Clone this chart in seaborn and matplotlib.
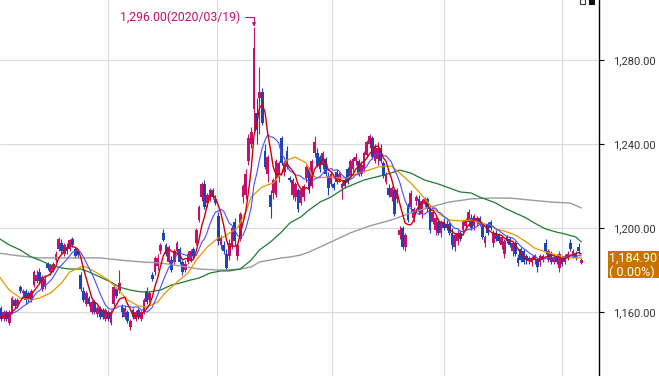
import numpy as np
import pandas as pd
import matplotlib
matplotlib.use("Agg")
import matplotlib.pyplot as plt
import seaborn as sns
from matplotlib.patches import Rectangle
from matplotlib.ticker import FuncFormatter
from matplotlib.transforms import blended_transform_factory

# USD/KRW daily candles (Nov 2019 - Sep 2020)
opens = [1163, 1161, 1162, 1157, 1160, 1155, 1160, 1166, 1163, 1172, 1169, 1170, 1169, 1166, 1173, 1175, 1179, 1171, 1172, 1183,
         1179, 1180, 1185, 1190, 1193, 1188, 1191, 1190, 1195, 1190, 1189, 1178, 1170, 1164, 1167, 1160, 1165, 1159, 1162, 1161,
         1157, 1160, 1155, 1164, 1171, 1170, 1163, 1158, 1160, 1153, 1161, 1157, 1161, 1157, 1160, 1170, 1166, 1178, 1179, 1182,
         1189, 1198, 1192, 1184, 1185, 1184, 1189, 1190, 1184, 1180, 1184, 1185, 1190, 1193, 1204, 1215, 1221, 1212, 1214, 1218,
         1214, 1206, 1192, 1192, 1188, 1187, 1192, 1203, 1187, 1195, 1215, 1216, 1232, 1240, 1257, 1255, 1262, 1265, 1237, 1226,
         1216, 1217, 1216, 1224, 1243, 1227, 1237, 1224, 1216, 1215, 1218, 1212, 1215, 1224, 1228, 1220, 1236, 1236, 1234, 1230,
         1233, 1225, 1221, 1221, 1227, 1223, 1219, 1223, 1228, 1225, 1228, 1232, 1232, 1226, 1228, 1235, 1240, 1243, 1232, 1233,
         1238, 1231, 1222, 1219, 1215, 1218, 1214, 1197, 1200, 1191, 1210, 1210, 1205, 1213, 1214, 1207, 1212, 1214, 1209, 1203,
         1199, 1203, 1198, 1203, 1202, 1202, 1198, 1191, 1194, 1198, 1199, 1201, 1203, 1205, 1201, 1203, 1205, 1201, 1193, 1202,
         1203, 1193, 1198, 1197, 1192, 1188, 1196, 1195, 1189, 1193, 1186, 1190, 1189, 1187, 1186, 1184, 1185, 1185, 1184, 1185,
         1193, 1185, 1188, 1184, 1187, 1181, 1186, 1184, 1186, 1193, 1187, 1188, 1191, 1183.5]
highs = [1164, 1163, 1163, 1161, 1161, 1161, 1168, 1167, 1167, 1173, 1171, 1171, 1170, 1171, 1180, 1180, 1181, 1178, 1178, 1184,
         1183, 1184, 1189, 1196, 1195, 1193, 1193, 1195, 1196, 1191, 1190, 1179, 1172, 1170, 1168, 1166, 1166, 1163, 1163, 1162,
         1162, 1161, 1161, 1173, 1172, 1180, 1164, 1163, 1161, 1157, 1162, 1161, 1162, 1161, 1167, 1172, 1170, 1179, 1187, 1188,
         1193, 1199.5, 1193, 1192, 1187, 1190, 1194, 1191, 1185, 1185, 1189, 1190, 1191, 1200, 1211, 1222, 1223, 1217, 1219, 1219,
         1216, 1208, 1197, 1194, 1190, 1195, 1201, 1205, 1193, 1208, 1221, 1228, 1245, 1248, 1296, 1262, 1277, 1267, 1240, 1235,
         1218, 1224, 1233, 1232, 1244, 1232, 1239, 1225, 1224, 1222, 1219, 1219, 1221, 1230, 1229, 1233, 1244, 1238, 1235, 1237,
         1234, 1227, 1227, 1222, 1228, 1227, 1222, 1224, 1229, 1233, 1234, 1236, 1233, 1232, 1237, 1242, 1245, 1244, 1240, 1241,
         1240, 1232, 1227, 1221, 1220, 1219, 1219, 1201, 1201, 1198, 1212, 1218, 1210, 1216, 1216, 1214, 1215, 1215, 1211, 1209,
         1206, 1205, 1204, 1205, 1204, 1203, 1200, 1198, 1199, 1199, 1204, 1205, 1209, 1207, 1207, 1206, 1206, 1203, 1197, 1203,
         1204, 1199, 1199, 1198, 1197, 1195, 1197, 1196, 1194, 1194, 1188, 1191, 1190, 1188, 1187, 1187, 1188, 1186, 1188, 1188,
         1195, 1190, 1189, 1187, 1188, 1189, 1187, 1188, 1189, 1195, 1190, 1189, 1193, 1186]
lows = [1157, 1157, 1156, 1156, 1156, 1154, 1159, 1162, 1162, 1169, 1167, 1164, 1165, 1165, 1172, 1174, 1174, 1170, 1171, 1180,
        1178, 1179, 1184, 1189, 1188, 1187, 1188, 1189, 1191, 1186, 1186, 1170, 1165, 1163, 1163, 1159, 1159, 1158, 1157, 1157,
        1156, 1156, 1154, 1163, 1167, 1169, 1158, 1157, 1155, 1151.5, 1157, 1156, 1157, 1156, 1159, 1164, 1165, 1175, 1178, 1180,
        1188, 1194, 1187, 1183, 1179, 1183, 1188, 1183, 1178, 1179, 1183, 1184, 1186, 1192, 1203, 1213, 1209, 1210, 1213, 1214,
        1211, 1192, 1190, 1188, 1180, 1185, 1190, 1192, 1185, 1194, 1212, 1214, 1230, 1238, 1245, 1240, 1245, 1249, 1228, 1222,
        1205, 1214, 1215, 1222, 1230, 1225, 1228, 1222, 1214, 1213, 1208, 1211, 1213, 1222, 1217, 1219, 1234, 1229, 1227, 1228,
        1225, 1216, 1220, 1218, 1221, 1222, 1214, 1219, 1221, 1224, 1227, 1230, 1225, 1225, 1227, 1234, 1238, 1233, 1231, 1230,
        1231, 1224, 1221, 1215, 1213, 1206, 1212, 1195, 1190, 1189, 1203, 1208, 1203, 1211, 1207, 1205, 1210, 1208, 1198, 1202,
        1197, 1197, 1196, 1199, 1199, 1197, 1190, 1189, 1192, 1194, 1197, 1199, 1201, 1199, 1199, 1201, 1201, 1195, 1191, 1197,
        1199, 1191, 1194, 1193, 1190, 1186, 1193, 1191, 1187, 1187, 1182, 1184, 1183, 1183, 1183, 1182, 1183, 1179, 1182, 1184,
        1188, 1184, 1183, 1183, 1183, 1179, 1182, 1183, 1185, 1189, 1186, 1185, 1188, 1183]
closes = [1158, 1158, 1157, 1160, 1157, 1160, 1167, 1163, 1166, 1170, 1170, 1166, 1166, 1170, 1179, 1178, 1175, 1177, 1176, 1181,
          1182.5, 1183, 1188, 1195, 1189, 1192, 1189, 1194.5, 1192, 1187, 1187.5, 1171, 1166, 1169, 1164, 1165, 1160, 1162, 1158, 1158,
          1161, 1157, 1160, 1172, 1168, 1174, 1160, 1162, 1156, 1156, 1158, 1160, 1158, 1160, 1166, 1165, 1169, 1176, 1186, 1186,
          1192, 1194.5, 1188, 1191, 1180, 1189, 1193, 1184, 1179, 1183, 1188, 1189, 1187, 1199, 1210, 1221, 1210, 1216, 1218, 1215,
          1212, 1194, 1196, 1189, 1181, 1193, 1200, 1194, 1192, 1207, 1220, 1226, 1243, 1246, 1286, 1247, 1265, 1250, 1229, 1234,
          1210, 1223, 1232, 1231, 1231, 1231, 1229, 1223, 1223, 1221, 1209, 1218, 1220, 1229, 1218, 1232, 1241, 1230, 1228, 1236,
          1226, 1219, 1226, 1219, 1222, 1226, 1221, 1220, 1222, 1232, 1233, 1234, 1226, 1230, 1236, 1241, 1244, 1234, 1239, 1238,
          1232, 1225, 1226, 1216, 1219, 1207, 1218, 1199, 1191, 1197, 1204, 1217, 1209, 1215, 1208, 1213, 1214, 1209, 1199, 1208,
          1205, 1198, 1203, 1200, 1200, 1198, 1192, 1197, 1198, 1195, 1203, 1204, 1208, 1200, 1206, 1205, 1202, 1196, 1196, 1198,
          1200, 1198, 1195, 1194, 1196, 1194, 1194, 1192, 1193, 1188, 1183.5, 1185, 1184, 1185, 1185, 1186, 1187, 1181.5, 1187, 1187,
          1189, 1189, 1184, 1186, 1184, 1188, 1183, 1187, 1188, 1190, 1189, 1186, 1189, 1184.9]

# longer moving averages at sample candles
ma20_idx = [1, 5, 9, 13, 16, 20, 24, 27, 31, 33, 37, 41, 44, 48, 52, 55, 59, 62, 66, 70, 73, 77, 81, 83, 88, 91, 93, 97,
            101, 104, 106, 109, 113, 115, 117, 121, 125, 128, 132, 136, 139, 144, 147, 151, 154, 158, 162, 165, 169, 173,
            176, 180, 182, 185, 189, 193, 196, 200, 204, 207, 211, 213]
ma20_val = [1177.7, 1170.6, 1166.8, 1165.9, 1166.8, 1169.2, 1173.9, 1179.2, 1181.6, 1181.6, 1178.7, 1175.4, 1171.6, 1165.9,
            1163.0, 1162.5, 1164.9, 1169.7, 1174.4, 1178.7, 1184.9, 1191.1, 1195.4, 1195.9, 1200.2, 1207.8, 1214.9, 1219.7,
            1221.6, 1226.3, 1232.5, 1233.9, 1231.1, 1225.4, 1224.0, 1224.4, 1224.0, 1224.0, 1226.3, 1227.8, 1229.2, 1229.7,
            1226.3, 1221.6, 1217.3, 1211.1, 1206.3, 1204.0, 1203.5, 1204.0, 1202.5, 1201.6, 1199.7, 1198.7, 1196.8, 1193.5,
            1190.6, 1188.7, 1187.3, 1186.3, 1185.9, 1185.9]
ma60_idx = [1, 5, 9, 13, 16, 20, 24, 27, 31, 34, 38, 42, 45, 49, 53, 56, 60, 64, 67, 71, 74, 78, 82, 85, 89, 93, 96, 100,
            104, 107, 111, 114, 118, 122, 127, 134, 142, 147, 151, 156, 161, 165, 169, 173, 176, 179, 182, 185, 189, 193,
            196, 200, 204, 207, 211, 213]
ma60_val = [1195.4, 1192.1, 1189.7, 1186.3, 1184.9, 1182.5, 1181.1, 1180.6, 1180.6, 1179.2, 1176.8, 1174.4, 1172.0, 1170.6,
            1169.7, 1169.7, 1170.6, 1173.0, 1173.9, 1175.4, 1176.3, 1178.7, 1179.7, 1179.7, 1180.6, 1184.9, 1189.7, 1193.5,
            1198.2, 1202.5, 1205.4, 1208.7, 1212.5, 1214.9, 1219.2, 1223.0, 1225.6, 1227.7, 1226.3, 1223.0, 1221.1, 1219.2,
            1217.3, 1216.8, 1214.9, 1213.5, 1212.0, 1209.7, 1207.3, 1204.9, 1202.5, 1199.7, 1198.2, 1197.3, 1195.9, 1193.5]
ma120_idx = [1, 9, 16, 24, 31, 38, 45, 53, 60, 67, 74, 82, 89, 93, 96, 100, 104, 107, 111, 114, 118, 122, 129, 136, 144,
             151, 158, 165, 173, 180, 187, 194, 202, 209, 213]
ma120_val = [1188.2, 1186.8, 1185.9, 1185.9, 1185.9, 1185.9, 1184.9, 1184.0, 1183.5, 1182.1, 1180.6, 1180.1, 1180.6, 1181.6,
             1184.0, 1184.9, 1185.9, 1186.3, 1187.3, 1188.7, 1191.1, 1193.5, 1197.8, 1201.1, 1204.0, 1207.3, 1210.1, 1212.5,
             1214.0, 1214.4, 1214.4, 1213.5, 1212.5, 1212.0, 1209.7]

month_idx = [41, 80.5, 122.5, 163, 206]   # Jan, Mar, May, Jul, Sep gridlines
y_ticks = [1160, 1200, 1240, 1280]
peak_date = "2020/03/19"
last_change = "( 0.00%)"

UP = "#c3106c"
DOWN = "#1d43b9"

sns.set_theme(style="white")
plt.rcParams["font.family"] = ["Roboto", "DejaVu Sans"]

df = pd.DataFrame({"o": opens, "h": highs, "l": lows, "c": closes})
df["i"] = np.arange(len(df))
df["ma5"] = df["c"].rolling(5, min_periods=1).mean()
df["ma10"] = df["c"].rolling(10, min_periods=1).mean()
up = df["c"] >= df["o"]
colors = np.where(up, UP, DOWN)

fig = plt.figure(figsize=(6.59, 3.76), dpi=100)
ax = fig.add_axes([0, 0, 599 / 659, 1])

# candles
ax.vlines(df["i"], df["l"], df["h"], colors=colors, lw=0.8, zorder=2)
body_lo = df[["o", "c"]].min(axis=1)
body_h = (df["c"] - df["o"]).abs().clip(lower=0.5)
ax.bar(df["i"], body_h, bottom=body_lo, width=0.95, color=colors, linewidth=0, zorder=3)

# moving averages
sns.lineplot(x=ma120_idx, y=ma120_val, ax=ax, color="#9b9b9b", lw=1.0, zorder=4)
sns.lineplot(x=ma60_idx, y=ma60_val, ax=ax, color="#1f7a30", lw=0.9, zorder=4)
sns.lineplot(x=ma20_idx, y=ma20_val, ax=ax, color="#e69500", lw=0.9, zorder=5)
sns.lineplot(data=df, x="i", y="ma10", ax=ax, color="#4b4bff", lw=0.8, zorder=5)
sns.lineplot(data=df, x="i", y="ma5", ax=ax, color="#d20000", lw=1.0, zorder=6)

ax.set_xlim(1.64, 219.45)
ax.set_ylim(1129.67, 1308.71)
ax.set_xlabel("")
ax.set_ylabel("")

ax.set_xticks(month_idx)
ax.tick_params(axis="x", length=0, labelbottom=False)
ax.yaxis.tick_right()
ax.set_yticks(y_ticks)
ax.yaxis.set_major_formatter(FuncFormatter(lambda v, _: f"{v:,.2f}"))
ax.tick_params(axis="y", direction="out", length=3.5, width=0.8, color="black",
               labelcolor="#333333", labelsize=8, pad=6.5)
ax.grid(True, color="#dadada", lw=0.8)
ax.set_axisbelow(True)
for s in ["top", "left", "bottom"]:
    ax.spines[s].set_visible(False)
ax.spines["right"].set_color("black")
ax.spines["right"].set_linewidth(1.0)

# peak annotation
pk = int(np.argmax(highs))
ax.annotate(f"{highs[pk]:,.2f}({peak_date})", xy=(pk, highs[pk]), xytext=(-10, 6.8),
            textcoords="offset points", ha="right", va="center", color=UP, fontsize=8.8,
            arrowprops=dict(arrowstyle="-|>", color=UP, lw=0.8, mutation_scale=5,
                            shrinkA=1, shrinkB=0,
                            connectionstyle="angle,angleA=0,angleB=90,rad=0"))

# last price box
last = closes[-1]
tr = blended_transform_factory(ax.transAxes, ax.transData)
ax.add_patch(Rectangle((1.015, last - 8.6), 0.09, 12.9, transform=tr,
                       facecolor="#c87300", edgecolor="none", clip_on=False, zorder=7))
ax.text(1.0175, last + 0.7, f"{last:,.2f}", transform=tr, color="white", fontsize=9,
        ha="left", va="center", clip_on=False, zorder=8)
ax.text(1.0175, last - 5.7, last_change, transform=tr, color="white", fontsize=9,
        ha="left", va="center", clip_on=False, zorder=8)

# little toolbar icons at the top right
fig.add_artist(Rectangle((580 / 659, 1 - 4 / 376), 5 / 659, 5 / 376, transform=fig.transFigure,
                         facecolor="white", edgecolor="#333333", lw=0.8))
fig.add_artist(Rectangle((589 / 659, 1 - 4 / 376), 5 / 659, 5 / 376, transform=fig.transFigure,
                         facecolor="#111111", edgecolor="#111111", lw=0.8))

fig.savefig("out.png", dpi=100)
